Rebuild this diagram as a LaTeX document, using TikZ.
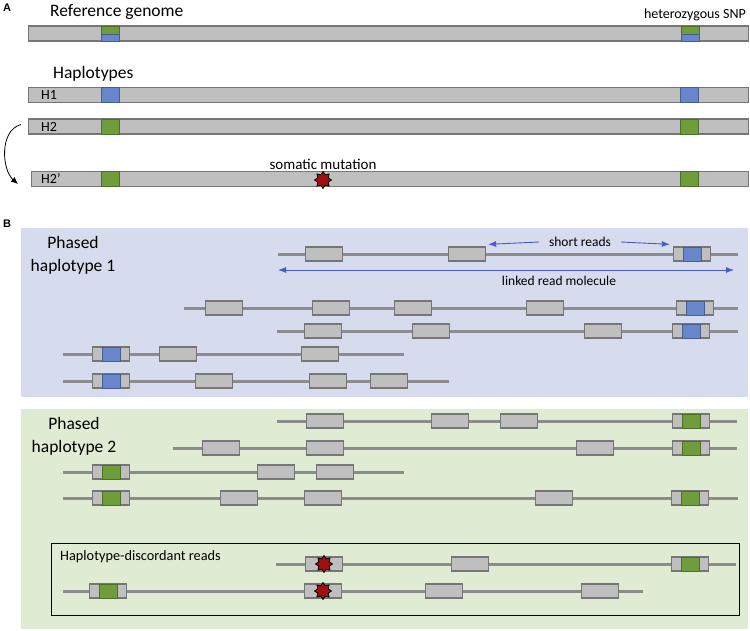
\documentclass[tikz,border=0pt]{standalone}
\usepackage{fontspec}
\setmainfont{Carlito}
\newfontfamily\panelfont{Liberation Sans}
\usetikzlibrary{arrows.meta, positioning, shapes.geometric}

\definecolor{barfill}{RGB}{191,191,191}
\definecolor{baredge}{RGB}{118,118,118}
\definecolor{readgray}{RGB}{140,140,140}
\definecolor{snpblue}{RGB}{103,134,204}
\definecolor{snpgreen}{RGB}{112,157,60}
\definecolor{hapone}{RGB}{214,219,238}
\definecolor{haptwo}{RGB}{224,235,212}
\definecolor{mutred}{RGB}{160,16,16}
\definecolor{arrowblue}{RGB}{72,92,196}

\tikzset{
	bar/.style={draw=baredge, fill=barfill, line width=1.3pt, minimum height=15pt, inner sep=0pt, anchor=west},
	allele/.style={draw=#1!70!black, fill=#1, line width=1pt, minimum width=18pt, minimum height=14pt, inner sep=0pt},
	readbox/.style={draw=baredge, fill=barfill, line width=1.3pt, minimum width=37pt, minimum height=14pt, inner sep=0pt},
	readline/.style={draw=readgray, line width=3pt},
	mutation/.style={star, star points=8, star point ratio=1.5, minimum size=17pt, inner sep=0pt, fill=mutred, draw=black, line width=0.8pt},
	molarrow/.style={draw=arrowblue, line width=0.9pt, -{Latex[length=8pt,width=6pt]}},
	title/.style={inner sep=1pt, font=\fontsize{17.5}{20}\selectfont},
	note/.style={inner sep=1pt, font=\fontsize{14}{16}\selectfont},
	small/.style={inner sep=1pt, font=\fontsize{13.5}{15}\selectfont},
	paneltag/.style={inner sep=0pt, font=\panelfont\bfseries\fontsize{11}{13}\selectfont}
}

\newcommand{\readrow}[6]{%
	\draw[readline] (#3,#2) -- (#4,#2);
	\foreach \bx in {#5} \node[readbox] (#1-\bx) at (\bx,#2) {};
	\foreach \bx/\bc in {#6} {\node[readbox] (#1-\bx) at (\bx,#2) {}; \node[allele=\bc] at (#1-\bx) {};}
}

\begin{document}
\begin{tikzpicture}[x=1pt, y=-1pt]
	\useasboundingbox (0,0) rectangle (750,630);

	% A: genome and haplotypes
	\node[paneltag] (tagA) at (7,8) {A};
	\node[title, anchor=west] (reftitle) at (49,12) {Reference genome};
	\node[note, anchor=east] (snplbl) at (747,15) {heterozygous SNP};
	\node[bar, minimum width=720pt] (refbar) at (28,33.5) {};
	\foreach \sx in {110,690} {
		\node[allele=snpgreen, minimum width=18pt, minimum height=8pt] at (\sx,30) {};
		\node[allele=snpblue, minimum width=18pt, minimum height=7pt] at (\sx,37.5) {};
	}

	\node[title, anchor=west] (haptitle) at (52,74) {Haplotypes};
	\node[bar, minimum width=720pt] (h1bar) at (28,95) {};
	\node[bar, minimum width=720pt] (h2bar) at (28,126.5) {};
	\node[bar, minimum width=717pt] (h2pbar) at (31,179) {};
	\node[note, anchor=west] (h1lbl) at (40,95) {H1};
	\node[note, anchor=west] (h2lbl) at (40,126.5) {H2};
	\node[note, anchor=west] (h2plbl) at (40,179) {H2’};
	\foreach \sx in {110,689} {
		\node[allele=snpblue, minimum height=15pt] at (\sx,95) {};
		\node[allele=snpgreen, minimum height=15pt] at (\sx,126.5) {};
		\node[allele=snpgreen, minimum height=15pt] at (\sx,179) {};
	}
	\node[mutation] (mutA) at (323,180) {};
	\node[note, above=0pt of mutA, font=\fontsize{15}{17}\selectfont] (mutlbl) {somatic mutation};
	\draw[line width=0.8pt, -{Latex[length=7pt,width=6pt]}] ([shift={(-7pt,2pt)}]h2bar.west) .. controls +(-22pt,-6pt) and +(-16pt,14pt) .. ([shift={(-13pt,-5pt)}]h2pbar.west);

	% B: linked reads
	\node[paneltag] (tagB) at (7,224) {B};
	\node[fill=hapone, minimum width=727pt, minimum height=169pt, inner sep=0pt, anchor=north west] (panelone) at (21,228) {};
	\node[fill=haptwo, minimum width=727pt, minimum height=220pt, inner sep=0pt, anchor=north west] (paneltwo) at (21,409) {};
	\node[title, align=center, font=\fontsize{17.5}{23}\selectfont] (hap1lbl) at (73,255.5) {Phased\\haplotype 1};
	\node[title, align=center, font=\fontsize{17.5}{23}\selectfont] (hap2lbl) at (74,436) {Phased\\haplotype 2};

	\readrow{ha}{254}{278}{738}{324,467}{692/snpblue}
	\readrow{hb}{308}{184}{738}{224,331,413,545}{695/snpblue}
	\readrow{hc}{331}{277}{738}{323,431,603}{691/snpblue}
	\readrow{hd}{354}{63}{404}{178,320}{111/snpblue}
	\readrow{he}{381}{63}{449}{214,328,389}{111/snpblue}

	\node[small, inner xsep=10pt] (shortlbl) at (580,242) {short reads};
	\draw[molarrow] (shortlbl.west) -- ([shift={(2pt,2pt)}]ha-467.north east);
	\draw[molarrow] (shortlbl.east) -- ([shift={(-3pt,2pt)}]ha-692.north west);
	\coordinate (molL) at (278,270);
	\coordinate (molR) at (734,270);
	\draw[molarrow, {Latex[length=8pt,width=6pt]}-{Latex[length=8pt,width=6pt]}] (molL) -- (molR);
	\node[small] (mollbl) at (559,281) {linked read molecule};

	\readrow{ka}{421}{277}{737}{325,450,519}{691/snpgreen}
	\readrow{kb}{448}{173}{737}{221,325,595}{691/snpgreen}
	\readrow{kc}{472}{63}{404}{276,335}{111/snpgreen}
	\readrow{kd}{498}{63}{738}{239,323,554}{111/snpgreen,690/snpgreen}

	\node[draw=black, line width=1pt, minimum width=688pt, minimum height=72pt, inner sep=0pt] (discbox) at (395,579) {};
	\node[small, anchor=west, font=\fontsize{14.3}{16}\selectfont] (disclbl) at (59,557) {Haplotype-discordant reads};
	\readrow{ke}{564}{276}{736}{324,470}{690/snpgreen}
	\readrow{kf}{591}{63}{643}{323,444,600}{108/snpgreen}
	\node[mutation] (mutke) at (ke-324) {};
	\node[mutation] (mutkf) at (kf-323) {};
\end{tikzpicture}
\end{document}
